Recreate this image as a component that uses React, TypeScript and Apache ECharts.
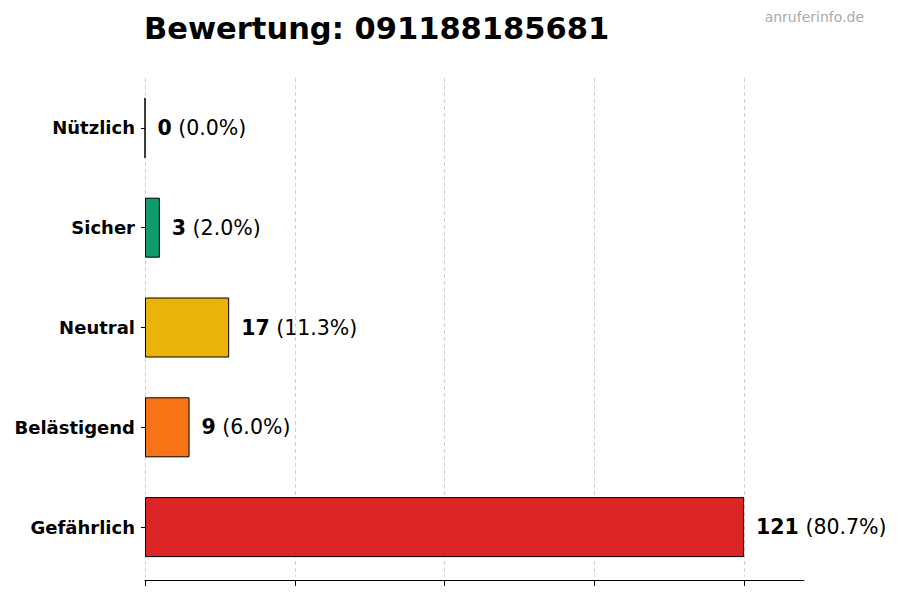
import { useEffect, useRef } from 'react'
import * as echarts from 'echarts'

// Daten aus dem Bild
const categories = ['Nützlich', 'Sicher', 'Neutral', 'Belästigend', 'Gefährlich']
const counts = [0, 3, 17, 9, 121]
const percents = ['0.0%', '2.0%', '11.3%', '6.0%', '80.7%']
const barColors = ['#2563eb', '#0f9a6a', '#eab308', '#f97316', '#dc2626']
const xTicks = [0, 30.25, 60.5, 90.75, 121]

const FONT = 'DejaVu Sans'

export default function App() {
  const chartRef = useRef<HTMLDivElement>(null)

  useEffect(() => {
    if (!chartRef.current) return
    const chart = echarts.init(chartRef.current, null, { renderer: 'svg' })

    const maxVal = Math.max(...counts)

    chart.setOption({
      animation: false,
      textStyle: { fontFamily: FONT },
      title: {
        text: 'Bewertung: 091188185681',
        left: 139,
        top: 8,
        textStyle: { fontFamily: FONT, fontSize: 30.5, fontWeight: 'bold', color: '#000' },
      },
      graphic: [
        {
          type: 'text',
          right: 36,
          top: 10,
          style: { text: 'anruferinfo.de', fill: '#aaaaaa', font: `14px "${FONT}"` },
        },
      ],
      grid: { left: 145, top: 78, width: 659, height: 499 },
      xAxis: {
        type: 'value',
        min: 0,
        max: maxVal * 1.1,
        offset: 3,
        axisLine: { show: true, lineStyle: { color: '#000', width: 1 } },
        axisTick: { show: true, length: 6, customValues: xTicks, lineStyle: { color: '#000' } },
        axisLabel: { show: false },
        splitLine: {
          show: true,
          lineStyle: { color: '#d0d0d0', type: [4, 3], width: 1 },
        },
      },
      yAxis: {
        type: 'category',
        data: categories,
        inverse: true,
        axisLine: { show: false },
        axisTick: { show: true, length: 4, alignWithLabel: true, lineStyle: { color: '#000' } },
        axisLabel: {
          color: '#000',
          fontFamily: FONT,
          fontWeight: 'bold',
          fontSize: 18,
          margin: 10,
          padding: [2, 0, 0, 0],
        },
        splitLine: { show: false },
      },
      series: [
        {
          type: 'bar',
          barWidth: 60,
          data: counts.map((v, i) => ({
            value: v,
            itemStyle: { color: barColors[i], borderColor: '#000', borderWidth: 1 },
          })),
          label: {
            show: true,
            position: 'right',
            distance: 12,
            formatter: (p: any) => `{b|${counts[p.dataIndex]}}{n| (${percents[p.dataIndex]})}`,
            rich: {
              b: { fontFamily: FONT, fontSize: 20.5, fontWeight: 'bold', color: '#000' },
              n: { fontFamily: FONT, fontSize: 20.5, color: '#000' },
            },
          },
        },
      ],
    })

    return () => {
      chart.dispose()
    }
  }, [])

  return (
    <div
      ref={chartRef}
      style={{ position: 'fixed', left: 0, top: 0, width: 900, height: 600, background: '#fff' }}
    />
  )
}
